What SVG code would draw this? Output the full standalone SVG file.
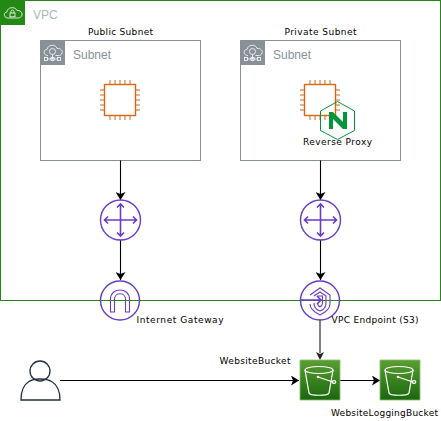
<svg xmlns="http://www.w3.org/2000/svg" width="441" height="421" viewBox="0 0 441 421">
<style>
.lbl{font-family:"DejaVu Sans",sans-serif;font-size:9px;fill:#000}
.grp{font-family:"Liberation Sans",sans-serif;font-size:12px}
.sub{fill:none;stroke:#879196;stroke-width:1}
.chip{fill:none;stroke:#D86613;stroke-width:1}
.chipb{fill:none;stroke:#D86613;stroke-width:1.4}
.pur{fill:none;stroke:#693CC5;stroke-width:1.4}
.pur2{fill:none;stroke:#693CC5;stroke-width:1.1}
.pur3{fill:none;stroke:#693CC5;stroke-width:1.6}
.edge{fill:none;stroke:#000;stroke-width:1.1}
.wht{fill:none;stroke:#fff;stroke-width:1.2}
.ico{fill:none;stroke:#fff;stroke-width:.8}
</style>
<defs>
<marker id="arr" markerUnits="userSpaceOnUse" markerWidth="9" markerHeight="10" refX="8" refY="5" orient="auto"><path d="M0 0L8 5L0 10L2 5Z" fill="#000"/></marker>
<linearGradient id="s3" x1="0" y1="1" x2="0" y2="0"><stop offset="0" stop-color="#1B660F"/><stop offset="1" stop-color="#5A9F32"/></linearGradient>
<g id="chipIcon">
<rect x="-15.500" y="-15.500" width="31" height="31" class="chipb"/>
<path class="chip" d="M-10-20V-15.500M-5-20V-15.500M0-20V-15.500M5-20V-15.500M10-20V-15.500M-10 15.500V20M-5 15.500V20M0 15.500V20M5 15.500V20M10 15.500V20M-20-10H-15.500M-20-5H-15.500M-20 0H-15.500M-20 5H-15.500M-20 10H-15.500M15.500-10H20M15.500-5H20M15.500 0H20M15.500 5H20M15.500 10H20"/>
</g>
<g id="subnetIcon">
<rect width="25" height="25" fill="#879196"/>
<path class="ico" d="M8 15.500C3 15.500 3 9.500 7 9.500C8 4 16 4 17 8.500C21 8 23 11 22 13C21.500 15 20 15.500 18 15.500H15.500"/>
<circle cx="12.500" cy="11.500" r="3" class="ico"/>
<path class="ico" d="M12.500 14.500V19M7 19H18"/>
<rect x="4.500" y="17.500" width="3" height="3" class="ico"/>
<rect x="11" y="17.500" width="3" height="3" class="ico"/>
<rect x="17.500" y="17.500" width="3" height="3" class="ico"/>
</g>
<g id="routerIcon">
<circle r="20" class="pur"/>
<path class="pur3" d="M0-16V16M-16 0H16M-3.500-12.500L0-16L3.500-12.500M-3.500 12.500L0 16L3.500 12.500M-12.500-3.500L-16 0L-12.500 3.500M12.500-3.500L16 0L12.500 3.500"/>
</g>
<g id="bucketIcon">
<rect width="40" height="40" fill="url(#s3)" stroke="#8cbf6a" stroke-width=".8"/>
<ellipse cx="19" cy="10" rx="14" ry="3.500" class="wht"/>
<path class="wht" d="M5 10L9 33C10 36 28 36 29 33L33 10"/>
<path class="wht" d="M18 17L33 22"/>
<circle cx="18" cy="17" r="1.300" fill="#fff"/>
<ellipse cx="34" cy="22" rx="1.800" ry="1.300" class="wht"/>
</g>
</defs>

<g id="vpc">
<rect x="0.500" y="0.500" width="440" height="300" fill="none" stroke="#248814"/>
<rect width="25" height="25" fill="#248814"/>
<path class="ico" d="M8 18C3.500 18 3 12.500 7 12C7 7 15 6 17 10.500C20 10 22.500 12.500 22 15C21.500 17 20 18 18 18Z"/>
<rect x="10" y="13" width="5" height="3.800" class="ico"/>
<path class="ico" d="M11 13V11.500A1.500 1.500 0 0 1 14 11.500V13"/>
<text x="33" y="19" class="grp" fill="#AAB7B8">VPC</text>
</g>

<g id="public-subnet">
<rect x="40.500" y="40.500" width="160" height="120" class="sub"/>
<use href="#subnetIcon" x="40" y="40"/>
<text x="73" y="59" class="grp" fill="#879196">Subnet</text>
<text x="120.500" y="35" class="lbl" text-anchor="middle" textLength="65">Public Subnet</text>
</g>
<g id="public-ec2"><use href="#chipIcon" x="120" y="100"/></g>

<g id="private-subnet">
<rect x="240.500" y="40.500" width="160" height="120" class="sub"/>
<use href="#subnetIcon" x="240" y="40"/>
<text x="273" y="59" class="grp" fill="#879196">Subnet</text>
<text x="320.500" y="35" class="lbl" text-anchor="middle" textLength="72">Private Subnet</text>
</g>
<g id="private-ec2"><use href="#chipIcon" x="320" y="100"/></g>
<g id="nginx">
<path d="M337.500 101.500L354.500 111V130.500L337.500 139.500L320.500 130.500V111Z" fill="none" stroke="#009639" stroke-width="1"/>
<path d="M329 129V112H333L343 122V112H347V129H343L333 119V129Z" fill="#009639"/>
<text x="337.500" y="145" class="lbl" text-anchor="middle" textLength="69">Reverse Proxy</text>
</g>

<g id="connectors">
<path class="edge" marker-end="url(#arr)" d="M120.500 160.500V200"/>
<path class="edge" marker-end="url(#arr)" d="M120.500 240V280"/>
<path class="edge" marker-end="url(#arr)" d="M320.500 160.500V200"/>
<path class="edge" marker-end="url(#arr)" d="M320.500 240V280"/>
<path fill="none" stroke="#808080" stroke-width="2" d="M320 320V353"/>
<path d="M316 352L320 354L324 352L320 360Z" fill="#222"/>
<path class="edge" marker-end="url(#arr)" d="M60 380.500H299"/>
<path class="edge" marker-end="url(#arr)" d="M340 380.500H380"/>
</g>

<g id="router-public"><use href="#routerIcon" x="120.500" y="220"/></g>
<g id="router-private"><use href="#routerIcon" x="320.500" y="220"/></g>

<g id="igw">
<circle cx="120" cy="300.500" r="19.500" class="pur"/>
<path class="pur2" d="M110.500 312V299C110.500 287 129.500 287 129.500 299V312H125.500V299C125.500 292 114.500 292 114.500 299V312Z"/>
<text x="180" y="323" class="lbl" text-anchor="middle" textLength="87">Internet Gateway</text>
</g>

<g id="endpoint">
<circle cx="320" cy="300.500" r="19.500" class="pur"/>
<path class="pur2" d="M310 295L320 288L330 295V304C330 310 324 313 320 315C316 313 310 310 310 304"/>
<path class="pur2" d="M314 296L320 292L326 296V303C326 307 323 310 320 311C317 310 314 307 314 303"/>
<path class="pur2" d="M317.500 296H322.500V303C322.500 305 321 306.500 320 307C319 306.500 317.500 305 317.500 303"/>
<path class="pur3" d="M301 300H321M317 296L321 300L317 304"/>
<text x="375" y="323" class="lbl" text-anchor="middle" textLength="87">VPC Endpoint (S3)</text>
</g>

<g id="user">
<circle cx="40" cy="371" r="10" fill="none" stroke="#232F3E" stroke-width="1.300"/>
<path d="M21 400H60C60 378 43 379 40 379C37 379 21 378 21 400Z" fill="none" stroke="#232F3E" stroke-width="1.300"/>
</g>

<g id="website-bucket">
<use href="#bucketIcon" x="300" y="360"/>
<text x="255" y="364" class="lbl" text-anchor="middle" textLength="71">WebsiteBucket</text>
</g>
<g id="logging-bucket">
<use href="#bucketIcon" x="380" y="360"/>
<text x="384.500" y="416" class="lbl" text-anchor="middle" textLength="107">WebsiteLoggingBucket</text>
</g>
</svg>
